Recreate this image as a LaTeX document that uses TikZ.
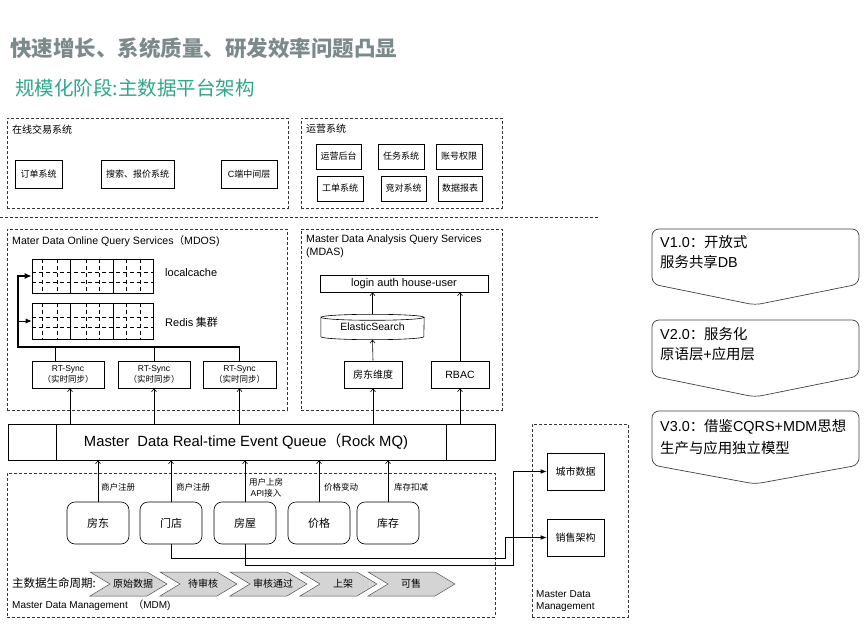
\documentclass[tikz,border=0pt]{standalone}
\usepackage{fontspec}
\setmainfont{Noto Sans CJK SC}
\newfontfamily\lat{Liberation Sans}
\usetikzlibrary{arrows.meta,calc}
\definecolor{titlegray}{RGB}{125,138,140}
\definecolor{titleteal}{RGB}{48,166,140}
\definecolor{chevfill}{RGB}{212,212,212}
\definecolor{dashc}{RGB}{55,55,55}
\newcommand{\fs}[1]{\fontsize{#1}{#1}\selectfont}
\newcommand{\mychev}[4]{%
  \draw[chev] (#1,572) -- ({#2-20},572) -- (#2,584) -- ({#2-20},596) -- (#1,596) -- ({#1+20},584) -- cycle;
  \node[font=\fs{10}] (#3) at ({#1+43},584) {#4};}
\newcommand{\mygrid}[1]{%
  \foreach \f in {0.09,0.21,0.45,0.56,0.78,0.89}
    \draw[gridd] ($(#1.north west)!\f!(#1.north east)$) -- ($(#1.south west)!\f!(#1.south east)$);
  \foreach \f in {0.4,0.68}
    \draw[gridd] ($(#1.north west)!\f!(#1.south west)$) -- ($(#1.north east)!\f!(#1.south east)$);
  \foreach \f in {0.32,0.67}
    \draw[line width=0.6pt] ($(#1.north west)!\f!(#1.north east)$) -- ($(#1.south west)!\f!(#1.south east)$);}
\begin{document}
\begin{tikzpicture}[x=1pt,y=-1pt,
  dbox/.style={draw=dashc, line width=0.7pt, dash pattern=on 3pt off 2pt, inner sep=0pt},
  sbox/.style={draw, line width=0.6pt, inner sep=0pt, font=\fs{9}},
  ent/.style={draw, line width=0.6pt, rounded corners=8pt, inner sep=0pt, minimum width=62, minimum height=42, font=\fs{11}},
  gridbox/.style={draw, line width=0.6pt, inner sep=0pt, minimum width=121},
  gridd/.style={line width=0.6pt, dash pattern=on 4pt off 3pt},
  arr/.style={line width=0.6pt, -{Straight Barb[length=3pt,width=5pt]}},
  arrf/.style={line width=0.6pt, -{Latex[length=6pt,width=4.5pt]}},
  chev/.style={draw=black!70, line width=0.5pt, fill=chevfill},
  vshape/.style={draw=black!75, line width=0.7pt, rounded corners=7pt},
  lbl/.style={anchor=west, inner sep=0pt, font=\fs{8.5}}]
\useasboundingbox (0,0) rectangle (865,628);

% titles
\node[anchor=west, inner sep=0pt, text=titlegray, font=\fs{21.5}\bfseries] (t1) at (10,48) {快速增长、系统质量、研发效率问题凸显};
\node[anchor=west, inner sep=0pt, text=titleteal, font=\fs{19.5}] (t2) at (15,88) {规模化阶段:主数据平台架构};

% online trading system
\node[dbox, anchor=north west, minimum width=281, minimum height=90] (ots) at (7,118) {};
\node[anchor=west, inner sep=0pt, font=\fs{10}] (otsl) at (12,130) {在线交易系统};
\node[sbox, minimum width=47, minimum height=28] (o1) at (38.5,174) {订单系统};
\node[sbox, minimum width=73, minimum height=28] (o2) at (137.5,174) {搜索、报价系统};
\node[sbox, minimum width=56, minimum height=28] (o3) at (249,174) {{\lat C}端中间层};

% operation system
\node[dbox, anchor=north west, minimum width=201, minimum height=90] (ops) at (301,118) {};
\node[anchor=west, inner sep=0pt, font=\fs{10}] (opsl) at (306,129) {运营系统};
\node[sbox, minimum width=45, minimum height=25] (p1) at (338.5,156.5) {运营后台};
\node[sbox, minimum width=46, minimum height=25] (p2) at (401,156.5) {任务系统};
\node[sbox, minimum width=46, minimum height=25] (p3) at (459,156.5) {账号权限};
\node[sbox, minimum width=46, minimum height=25] (p4) at (340,188.5) {工单系统};
\node[sbox, minimum width=45, minimum height=25] (p5) at (403.5,188.5) {竞对系统};
\node[sbox, minimum width=44, minimum height=25] (p6) at (460,188.5) {数据报表};

% separator
\coordinate (sepa) at (0,217);
\coordinate (sepb) at (598,217);
\draw[dashc, line width=0.7pt, dash pattern=on 3pt off 2pt] (sepa) -- (sepb);

% MDOS
\node[dbox, anchor=north west, minimum width=280, minimum height=181] (mdos) at (7,229) {};
\node[anchor=west, inner sep=0pt, font=\fs{10.6}] (mdosl) at (12,241) {{\lat Mater Data Online Query Services}（{\lat MDOS)}};
\node[gridbox, minimum height=34] (lc) at (92.5,276) {};
\mygrid{lc}
\node[gridbox, minimum height=36] (rd) at (92.5,321) {};
\mygrid{rd}
\node[anchor=west, inner sep=0pt, font=\fs{11}\lat] (lcl) at (165,273) {localcache};
\node[anchor=west, inner sep=0pt, font=\fs{11}] (rdl) at (165,322) {{\lat Redis} 集群};
\node[sbox, minimum width=72, minimum height=27, align=center, font=\fs{8.5}] (rt1) at (68,374.5) {{\lat RT-Sync}\\[1pt]（实时同步）};
\node[sbox, minimum width=72, minimum height=27, align=center, font=\fs{8.5}] (rt2) at (154,374.5) {{\lat RT-Sync}\\[1pt]（实时同步）};
\node[sbox, minimum width=73, minimum height=27, align=center, font=\fs{8.5}] (rt3) at (239.5,374.5) {{\lat RT-Sync}\\[1pt]（实时同步）};
\coordinate (k1) at (18,347);
\draw[line width=0.6pt] ([xshift=-13pt]rt1.north) -- ([xshift=-13pt]rt1.north |- k1);
\draw[line width=0.6pt] (rt2.north) -- (rt2.north |- k1);
\draw[line width=1.8pt, -{Latex[length=7pt,width=6pt]}] (rt3.north) -- (rt3.north |- k1) -- (k1) |- (lc.west);
\draw[line width=0.9pt, -{Latex[length=6pt,width=5pt]}] (k1 |- rd.west) -- (rd.west);

% MDAS
\node[dbox, anchor=north west, minimum width=201, minimum height=181] (mdas) at (301,229) {};
\node[anchor=north west, inner sep=0pt, align=left, font=\fs{10.6}\lat] (mdasl) at (306,235) {Master Data Analysis Query Services\\[2pt](MDAS)};
\node[sbox, minimum width=168, minimum height=17, font=\fs{11}\lat] (login) at (404,283.5) {login auth house-user};
\node[inner sep=0pt, minimum width=103, minimum height=25, font=\fs{10.5}\lat] (es) at (372.5,327) {ElasticSearch};
\draw[line width=0.6pt] (es.north west) ++(0,3) -- ($(es.south west)+(0,-3)$) arc[start angle=180, end angle=0, x radius=51.5, y radius=3] -- ($(es.north east)+(0,3)$);
\draw[line width=0.6pt] ($(es.north)+(0,3)$) ellipse[x radius=51.5, y radius=3];
\node[sbox, minimum width=58, minimum height=27, font=\fs{10}] (fd) at (373,374.5) {房东维度};
\node[sbox, minimum width=58, minimum height=27, font=\fs{10.5}\lat] (rbac) at (460,374.5) {RBAC};
\draw[arr] (fd.north) -- (es.south);
\draw[arr] (es.north) -- (es.north |- login.south);
\draw[arr] (rbac.north) -- (rbac.north |- login.south);

% Queue
\node[draw, line width=0.6pt, minimum width=487, minimum height=36, inner sep=0pt] (q) at (251.5,442) {};
\draw[line width=0.6pt] ($(q.north west)+(49,0)$) -- ($(q.south west)+(49,0)$);
\draw[line width=0.6pt] ($(q.north east)+(-49,0)$) -- ($(q.south east)+(-49,0)$);
\node[font=\fs{14.8}, inner sep=0pt] (qt) at (246,442) {{\lat Master\ \ Data Real-time Event Queue}（{\lat Rock MQ)}};
\draw[arr] ([xshift=2pt]rt1.south |- q.north) -- ([xshift=2pt]rt1.south);
\draw[arr] (rt2.south |- q.north) -- (rt2.south);
\draw[arr] (rt3.south |- q.north) -- (rt3.south);
\draw[arr] (fd.south |- q.north) -- (fd.south);
\draw[arr] (rbac.south |- q.north) -- (rbac.south);

% MDM
\node[dbox, anchor=north west, minimum width=488, minimum height=144] (mdm) at (7,473) {};
\node[ent] (e1) at (98,523) {房东};
\node[ent] (e2) at (171,523) {门店};
\node[ent] (e3) at (245,523) {房屋};
\node[ent] (e4) at (319,523) {价格};
\node[ent] (e5) at (388,523) {库存};
\draw[arr] (e1.north) -- (e1.north |- q.south);
\draw[arr] (e2.north) -- (e2.north |- q.south);
\draw[arr] (e3.north) -- (e3.north |- q.south);
\draw[arr] (e4.north) -- (e4.north |- q.south);
\draw[arr] (e5.north) -- (e5.north |- q.south);
\node[lbl] (a1) at (101,487) {商户注册};
\node[lbl] (a2) at (176,487) {商户注册};
\node[inner sep=0pt, align=center, font=\fs{8.5}] (a3) at (266,488) {用户上房\\[2pt]{\lat API}接入};
\node[lbl] (a4) at (324,487) {价格变动};
\node[lbl] (a5) at (394,487) {库存扣减};
\node[anchor=west, inner sep=0pt, font=\fs{11.5}] (lcy) at (12,583) {主数据生命周期:};
\mychev{90}{167}{c1}{原始数据}
\mychev{160}{237}{c2}{待审核}
\mychev{230}{307}{c3}{审核通过}
\mychev{300}{377}{c4}{上架}
\mychev{368}{455}{c5}{可售}
\node[anchor=west, inner sep=0pt, font=\fs{10}] (mdml) at (12,605) {{\lat Master Data Management \ }（{\lat MDM)}};

% right MDM
\node[dbox, anchor=north west, minimum width=96, minimum height=193] (rmdm) at (532,424) {};
\node[sbox, minimum width=57, minimum height=37, font=\fs{10}] (city) at (575.5,471.5) {城市数据};
\node[sbox, minimum width=57, minimum height=37, font=\fs{10}] (sales) at (575.5,537.5) {销售架构};
\node[anchor=north west, inner sep=0pt, align=left, font=\fs{10}\lat] (rmdml) at (536,590) {Master Data\\[2pt]Management};
\coordinate (r1) at (505,558);
\coordinate (r2) at (513,565);
\draw[arrf] (e2.south) |- (r1) |- (sales.west);
\draw[arrf] (e3.south) |- (r2) |- (city.west);

% version shapes
\draw[vshape] (652,284) -- (652,229) -- (859,229) -- (859,284) -- (755,305) -- cycle;
\draw[vshape] (652,376) -- (652,320) -- (859,320) -- (859,376) -- (755,397) -- cycle;
\draw[vshape] (652,465) -- (652,411) -- (859,411) -- (859,465) -- (755,484) -- cycle;
\node[anchor=north west, inner sep=0pt, align=left, font=\fs{14.4}] (v1) at (660,235) {{\lat V1.0}：开放式\\[6pt]服务共享{\lat DB}};
\node[anchor=north west, inner sep=0pt, align=left, font=\fs{14.4}] (v2) at (660,327) {{\lat V2.0}：服务化\\[6pt]原语层{\lat +}应用层};
\node[anchor=north west, inner sep=0pt, align=left, font=\fs{14.4}] (v3) at (660,419) {{\lat V3.0}：借鉴{\lat CQRS+MDM}思想\\[6pt]生产与应用独立模型};
\end{tikzpicture}
\end{document}
